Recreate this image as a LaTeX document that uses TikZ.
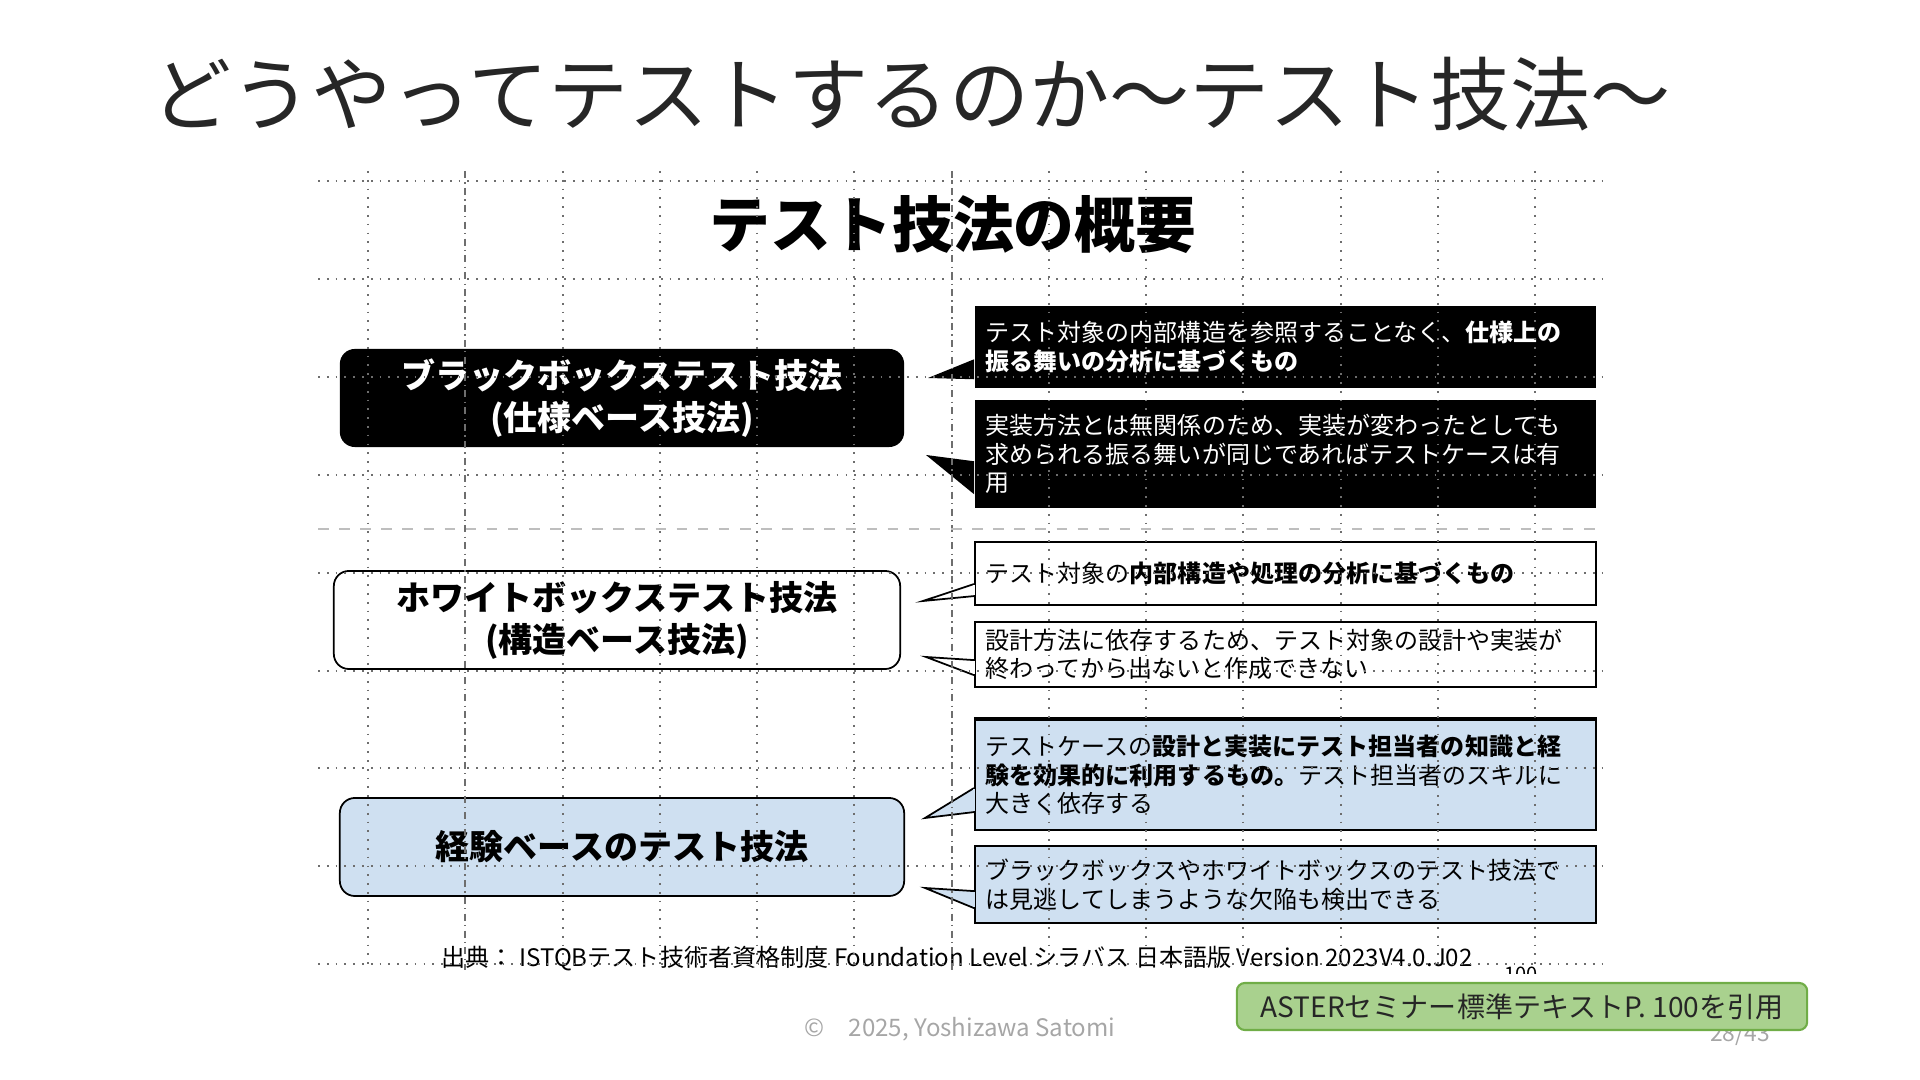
\documentclass[tikz,border=0pt]{standalone}
\usepackage{fontspec}
\setmainfont{Noto Sans CJK JP}
\usetikzlibrary{calc}

\definecolor{expblue}{RGB}{207,224,241}
\definecolor{refgreen}{RGB}{169,209,142}
\definecolor{refedge}{RGB}{112,173,71}
\definecolor{footgray}{RGB}{166,166,166}
\definecolor{gridgray}{RGB}{110,110,110}

\tikzset{
  techbox/.style={rounded corners=0.15cm, minimum width=5.64cm, minimum height=0.98cm,
    inner sep=0pt, align=center, font=\fontsize{9.67}{11.95}\selectfont\bfseries},
  specbox/.style={minimum width=6.21cm, text width=5.99cm, inner xsep=0.11cm, inner ysep=0pt,
    align=left, font=\fontsize{6.83}{8.1}\selectfont},
  edgebox/.style={draw=black, line width=0.5pt},
  gridline/.style={gridgray, line width=0.5pt, dotted},
  gridaxis/.style={gridgray, line width=0.5pt, dash pattern=on 2pt off 1.2pt on 0.4pt off 1.2pt},
}

\begin{document}
\begin{tikzpicture}[x=0.01cm, y=-0.01cm]
\useasboundingbox (0,0) rectangle (1920,1080);

% slide title
\node[font=\fontsize{22.8}{27}\selectfont, text=black!85] (title) at (911,94) {どうやってテストするのか～テスト技法～};

% quoted page
\node[font=\fontsize{17.3}{20}\selectfont\bfseries] (overview) at (953,225) {テスト技法の概要};

% left: the three families
\node[techbox, fill=black, text=white] (blackbox) at (622,398) {ブラックボックステスト技法\\(仕様ベース技法)};
\node[techbox, edgebox, minimum width=5.66cm] (whitebox) at (617,620) {ホワイトボックステスト技法\\(構造ベース技法)};
\node[techbox, edgebox, fill=expblue] (expbox) at (622,847) {経験ベースのテスト技法};

% right: explanations
\node[specbox, fill=black, text=white, minimum height=0.82cm] (spec1) at (1285.5,347)
  {テスト対象の内部構造を参照することなく、\textbf{仕様上の}\\\textbf{振る舞いの分析に基づくもの}};
\node[specbox, fill=black, text=white, minimum height=1.08cm] (spec2) at (1285.5,454)
  {実装方法とは無関係のため、実装が変わったとしても\\求められる振る舞いが同じであればテストケースは有\\用};
\node[specbox, edgebox, fill=white, minimum height=0.63cm] (struct1) at (1285.5,573.5)
  {テスト対象の\textbf{内部構造や処理の分析に基づくもの}};
\node[specbox, edgebox, fill=white, minimum height=0.65cm] (struct2) at (1285.5,654.5)
  {設計方法に依存するため、テスト対象の設計や実装が\\終わってから出ないと作成できない};
\node[specbox, edgebox, fill=expblue, minimum height=1.10cm] (exp1) at (1285.5,775)
  {テストケースの\textbf{設計と実装にテスト担当者の知識と経}\\\textbf{験を効果的に利用するもの。}テスト担当者のスキルに\\大きく依存する};
\node[specbox, edgebox, fill=expblue, minimum height=0.77cm] (exp2) at (1285.5,884.5)
  {ブラックボックスやホワイトボックスのテスト技法で\\は見逃してしまうような欠陥も検出できる};
\draw[line width=1.2pt] (exp1.north west) -- (exp1.north east);

% callout tails
\coordinate (tip1) at (928,378);
\coordinate (tip2) at (926,455);
\coordinate (tip3) at (923,601);
\coordinate (tip4) at (926,657);
\coordinate (tip5) at (925,818);
\coordinate (tip6) at (925,888);
\path (spec1.north west) ++(0,54) coordinate (s1a) ++(0,20) coordinate (s1b);
\path (spec2.north west) ++(0,62) coordinate (s2a) ++(0,33) coordinate (s2b);
\path (struct1.north west) ++(0,43) coordinate (s3a) ++(0,12) coordinate (s3b);
\path (struct2.north west) ++(0,39) coordinate (s4a) ++(0,15) coordinate (s4b);
\path (exp1.north west) ++(0,69) coordinate (s5a) ++(0,24) coordinate (s5b);
\path (exp2.north west) ++(0,46) coordinate (s6a) ++(0,17) coordinate (s6b);
\fill (s1a) -- (tip1) -- (s1b) -- cycle;
\fill (s2a) -- (tip2) -- (s2b) -- cycle;
\filldraw[fill=white, line width=0.5pt] (s3a) -- (tip3) -- (s3b);
\filldraw[fill=white, line width=0.5pt] (s4a) -- (tip4) -- (s4b);
\filldraw[fill=expblue, line width=0.5pt] (s5a) -- (tip5) -- (s5b);
\filldraw[fill=expblue, line width=0.5pt] (s6a) -- (tip6) -- (s6b);
\draw[white, line width=0.7pt] ([yshift=-0.4pt]s3a) -- ([yshift=0.4pt]s3b);
\draw[white, line width=0.7pt] ([yshift=-0.4pt]s4a) -- ([yshift=0.4pt]s4b);
\draw[expblue, line width=0.7pt] ([yshift=-0.4pt]s5a) -- ([yshift=0.4pt]s5b);
\draw[expblue, line width=0.7pt] ([yshift=-0.4pt]s6a) -- ([yshift=0.4pt]s6b);

% source of the quoted page
\node[font=\fontsize{6.85}{8}\selectfont, anchor=west, inner sep=0pt] (source) at (441,959)
  {出典： ISTQBテスト技術者資格制度 Foundation Level シラバス 日本語版 Version 2023V4.0.J02};
\begin{scope}
  \clip (1480,940) rectangle (1560,974);
  \node[font=\fontsize{5.7}{7}\selectfont] (pageref) at (1521,974) {100};
\end{scope}

% layout grid over the quoted page
\foreach \y in {181,279,377,475,573,671,768,866,964}
  \draw[gridline] (318,\y) -- (1604,\y);
\foreach \x in {368,563,660,757,854,1049,1146,1243,1341,1438,1535}
  \draw[gridline] (\x,171) -- (\x,970);
\foreach \x in {465,952}
  \draw[gridaxis] (\x,171) -- (\x,970);
\draw[gridgray!45, dashed, line width=0.4pt] (318,529) -- (1604,529);

% footer
\node[font=\fontsize{6.85}{8}\selectfont, text=footgray, anchor=west, inner sep=0pt] (copyright) at (804,1029) {©　2025, Yoshizawa Satomi};
\node[font=\fontsize{6.5}{8}\selectfont, text=footgray] (pagenum) at (1740,1034) {28/43};
\node[fill=refgreen, draw=refedge, line width=0.6pt, rounded corners=0.08cm, minimum width=5.70cm,
  minimum height=0.47cm, inner sep=0pt, font=\fontsize{7.97}{9}\selectfont, text=black!85] (aster)
  at (1522,1006.5) {ASTERセミナー標準テキストP. 100を引用};

\end{tikzpicture}
\end{document}
